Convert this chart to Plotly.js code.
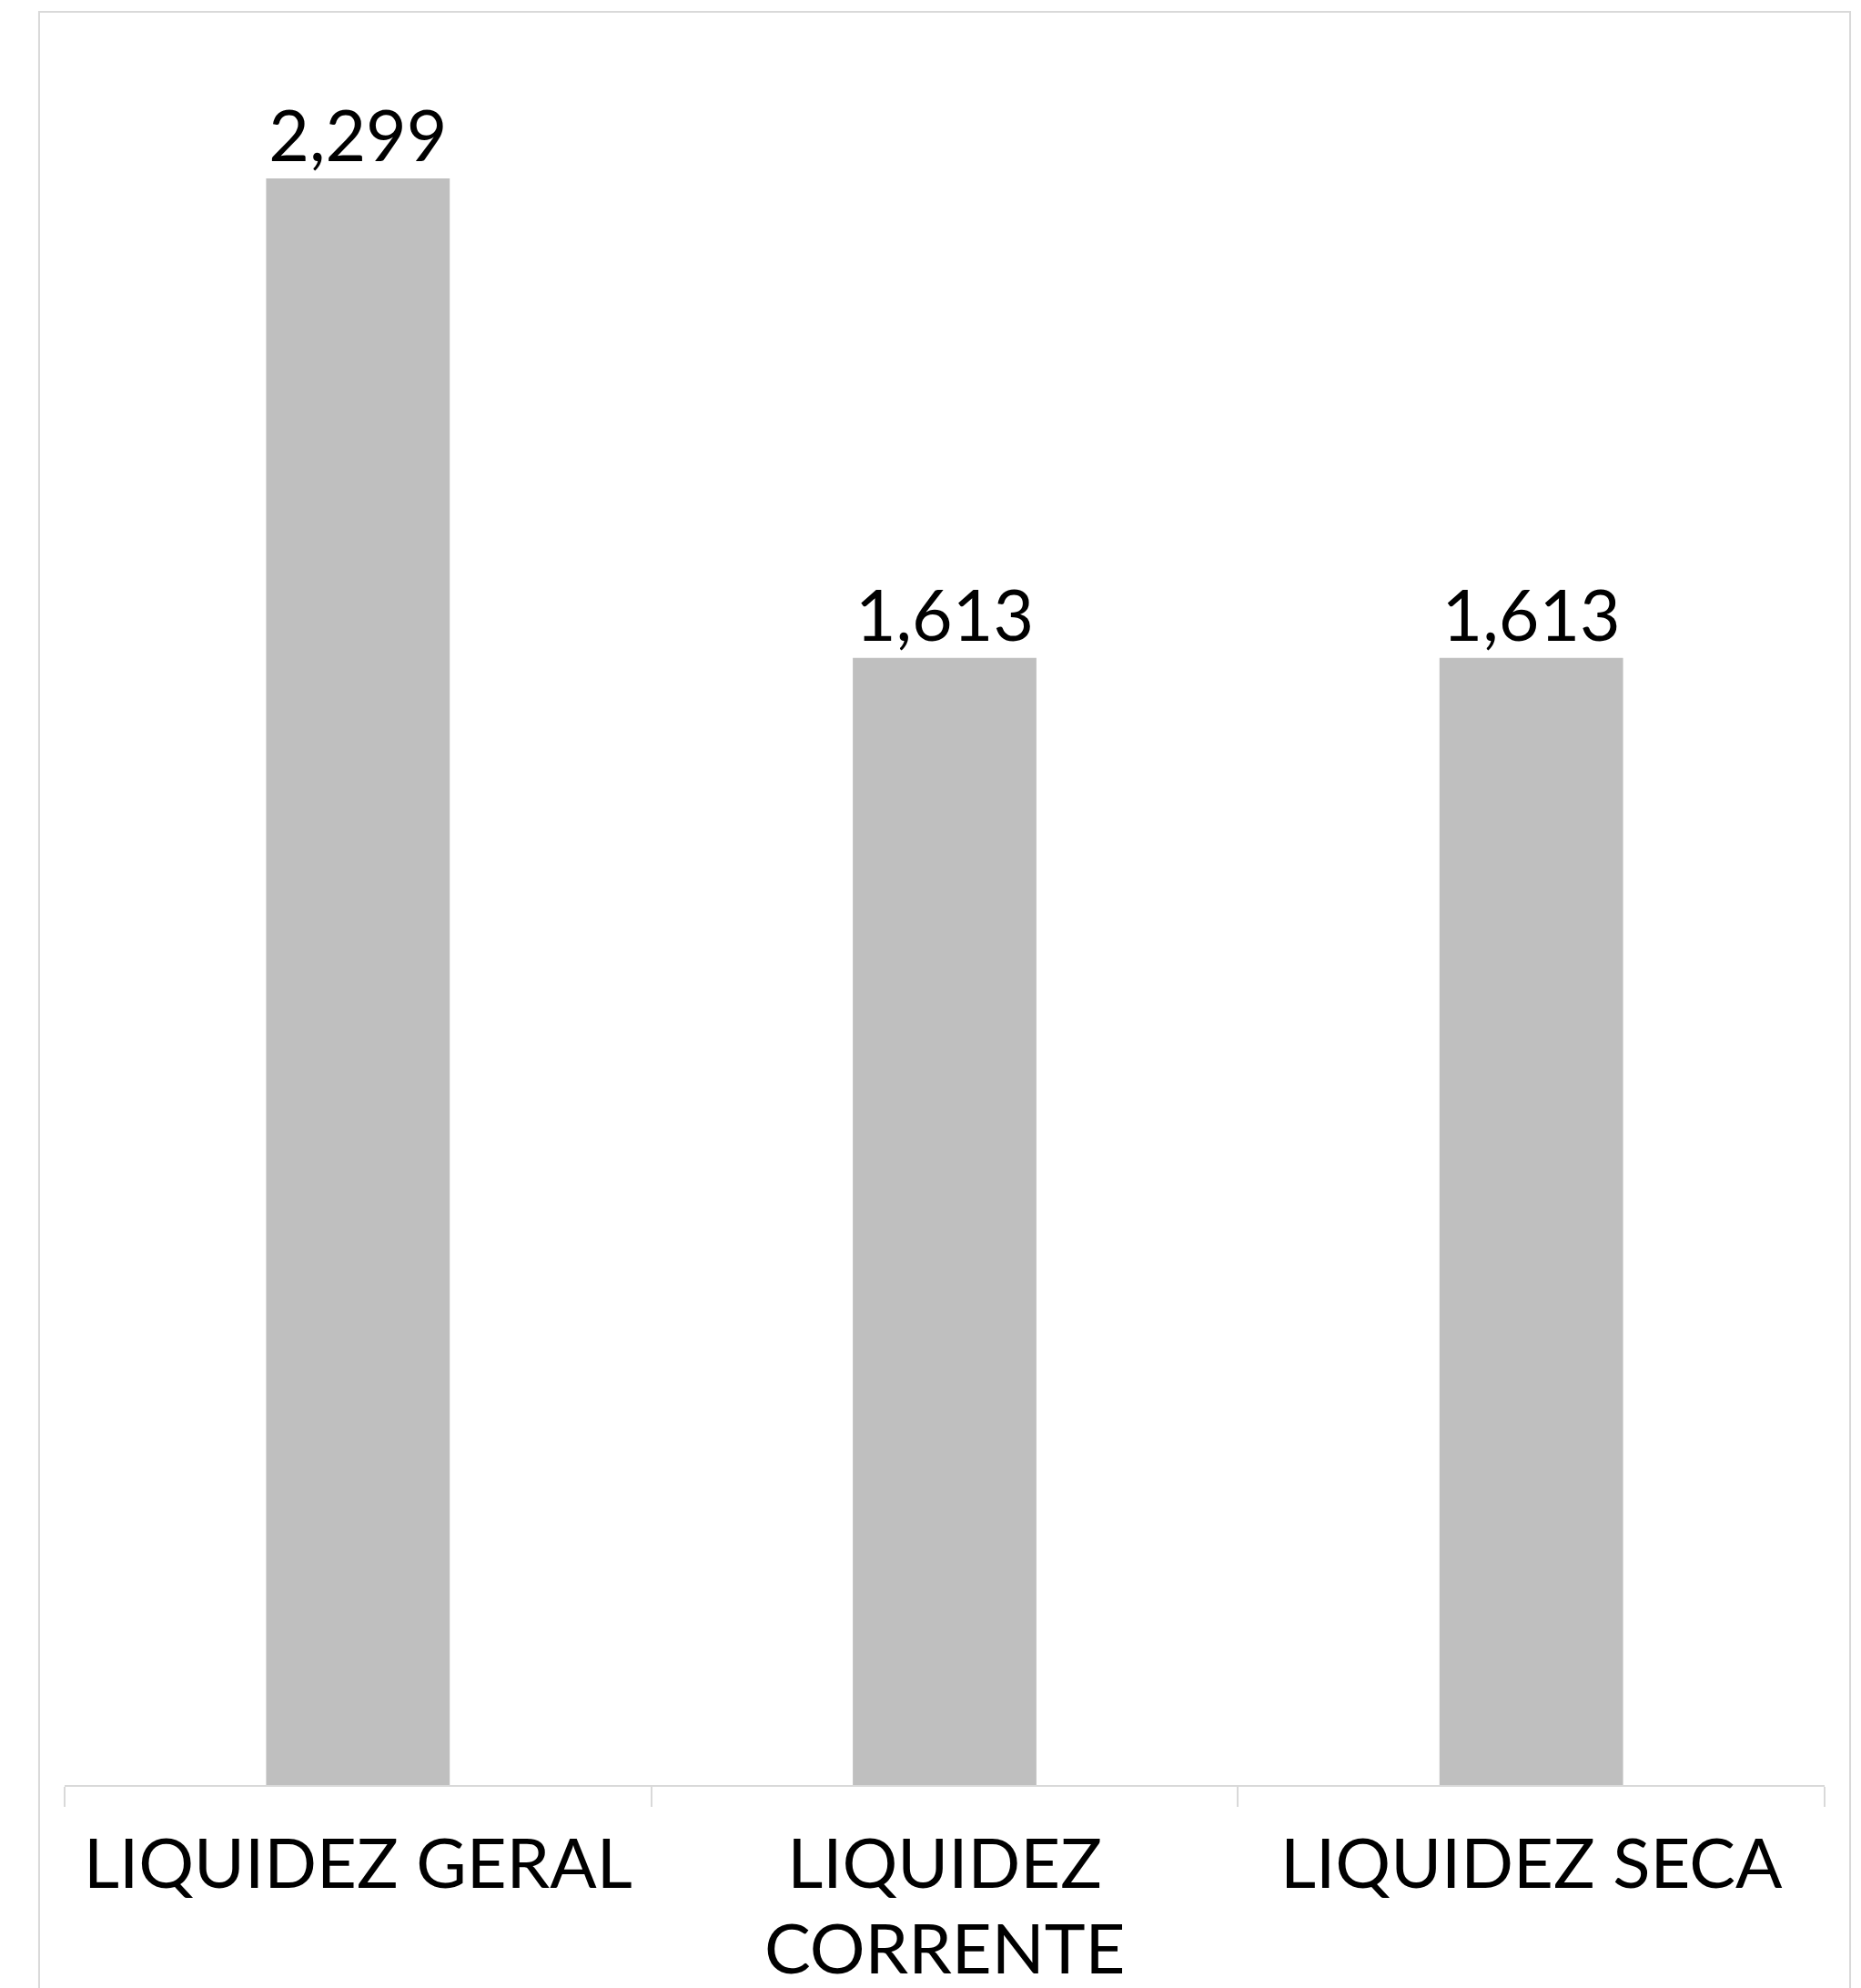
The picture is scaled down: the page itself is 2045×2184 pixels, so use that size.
<!DOCTYPE html>
<html>
<head>
<meta charset="utf-8">
<script src="https://cdn.plot.ly/plotly-3.0.1.min.js"></script>
<style>
  html, body { margin: 0; padding: 0; background: #fff; }
  #chart { width: 2045px; height: 2184px; }
</style>
</head>
<body>
<div id="chart"></div>
<script>
// indices de liquidez
const categorias = ['LIQUIDEZ GERAL', 'LIQUIDEZ CORRENTE', 'LIQUIDEZ SECA'];
const linha1 = ['LIQUIDEZ GERAL', 'LIQUIDEZ', 'LIQUIDEZ SECA'];
const linha2 = ['', 'CORRENTE', ''];
const valores = [2.299, 1.613, 1.613];

const trace = {
    x: categorias,
    y: valores,
    type: 'bar',
    marker: { color: '#bfbfbf' },
    texttemplate: '%{y:.3f}',
    textposition: 'outside',
    cliponaxis: false,
    textfont: { family: 'Lato, sans-serif', size: 77, color: '#000' },
    hoverinfo: 'skip'
};

// segunda linha do rotulo (espacamento mais justo que o <br> do plotly)
const segundaLinha = [];
for (let i = 0; i < categorias.length; i++) {
    if (linha2[i] === '') continue;
    segundaLinha.push({
        x: categorias[i],
        xref: 'x',
        yref: 'paper',
        y: -0.0667,
        yanchor: 'top',
        text: linha2[i],
        showarrow: false,
        font: { family: 'Lato, sans-serif', size: 76, color: '#000' }
    });
}

const layout = {
    width: 2045,
    height: 2184,
    separators: ',.',
    margin: { l: 71, r: 40, t: 13, b: 223 },
    paper_bgcolor: '#fff',
    plot_bgcolor: '#fff',
    showlegend: false,
    bargap: 0.687,
    font: { family: 'Lato, sans-serif', color: '#000' },
    xaxis: {
        type: 'category',
        tickvals: categorias,
        ticktext: linha1,
        showline: true,
        linecolor: '#d9d9d9',
        linewidth: 2,
        ticks: 'outside',
        tickson: 'boundaries',
        ticklen: 22,
        tickwidth: 2,
        tickcolor: '#d9d9d9',
        tickfont: { family: 'Lato, sans-serif', size: 76, color: '#000' },
        ticklabelstandoff: 20,
        showgrid: false,
        zeroline: false
    },
    yaxis: {
        range: [0, 2.5375],
        visible: false,
        showgrid: false,
        zeroline: false
    },
    annotations: segundaLinha,
    // moldura da area do grafico
    shapes: [{
        type: 'rect',
        xref: 'paper', yref: 'paper',
        x0: -0.0145, x1: 1.0145,
        y0: -0.2, y1: 1,
        line: { color: '#d9d9d9', width: 2 },
        layer: 'below'
    }]
};

Plotly.newPlot('chart', [trace], layout, { staticPlot: true });
</script>
</body>
</html>
